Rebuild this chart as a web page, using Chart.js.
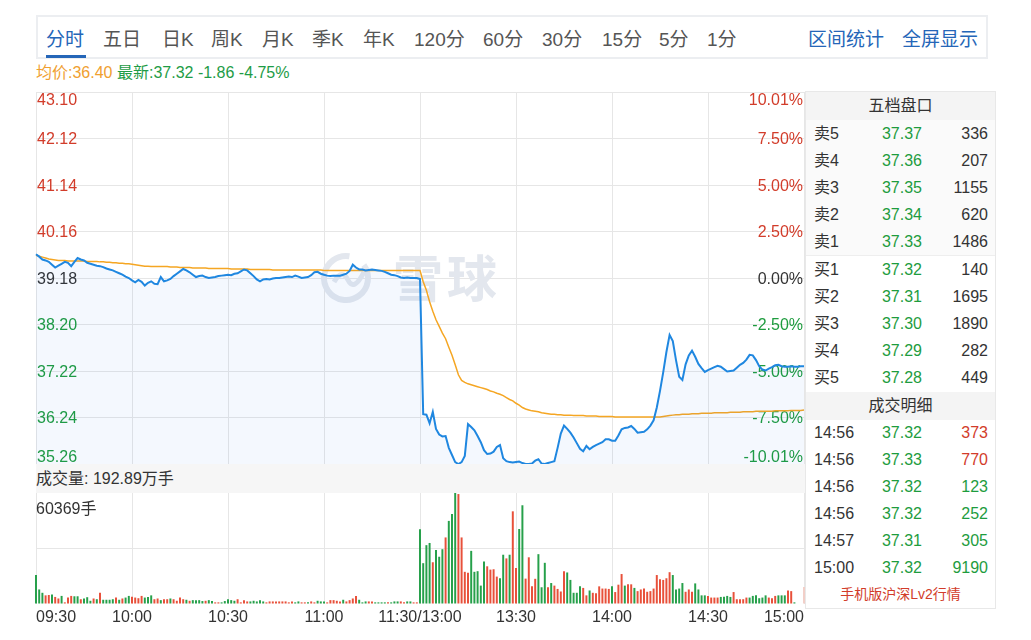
<!DOCTYPE html>
<html>
<head>
<meta charset="utf-8">
<script src="https://cdn.jsdelivr.net/npm/chart.js@4.4.1/dist/chart.umd.min.js"></script>
<style>
  body { margin: 0; background: #fff; font-family: "Liberation Sans", Arial, "Noto Sans CJK SC", sans-serif; }
  #wrap { position: relative; width: 1031px; height: 640px; overflow: hidden; }
  .abs { position: absolute; white-space: nowrap; }
  #toolbar { left: 36px; top: 15px; width: 948px; height: 40px; border: 2px solid #eceef1; }
  .tab { position: absolute; top: 28px; font-size: 19px; line-height: 24px; color: #555; }
  .tab.on, .tab.link { color: #2566b8; }
  #underline { left: 46px; top: 55px; width: 40px; height: 3px; background: #2566b8; }
  #quote { left: 36px; top: 62px; font-size: 16px; line-height: 22px; }
  #volhead { left: 36px; top: 464px; width: 769px; height: 29px; background: #f6f6f6; font-size: 16px; line-height: 29px; color: #333; }
  canvas { position: absolute; }
  #panel { left: 805px; top: 91px; width: 189px; height: 516px; border: 1px solid #e8e8e8; background: #fff; font-size: 16px; color: #333; }
  .ph { position: absolute; left: 0; width: 189px; height: 28px; line-height: 28px; background: #f4f4f4; text-align: center; }
  .row { position: absolute; left: 0; width: 189px; height: 27px; line-height: 27px; }
  .row .c1 { position: absolute; left: 8px; }
  .row .c2 { position: absolute; left: 66px; width: 60px; text-align: center; color: #1e9c3e; }
  .row .c3 { position: absolute; right: 7px; text-align: right; }
</style>
</head>
<body>
<div id="wrap">
  <div id="toolbar" class="abs"></div>
  <div id="tabs"></div>
  <div id="underline" class="abs"></div>
  <div id="quote" class="abs"><span style="color:#f0a030">均价:36.40</span> <span style="color:#1e9c46">最新:37.32 -1.86 -4.75%</span></div>
  <canvas id="priceChart" width="782" height="384" style="left:30px;top:86px;width:782px;height:384px"></canvas>
  <div id="volhead" class="abs">成交量: 192.89万手</div>
  <canvas id="volChart" width="782" height="150" style="left:30px;top:487px;width:782px;height:150px"></canvas>
  <div id="panel" class="abs"></div>
</div>
<script>
// ---- data ----
var tabLabels = ["分时", "五日", "日K", "周K", "月K", "季K", "年K", "120分", "60分", "30分", "15分", "5分", "1分", "区间统计", "全屏显示"];
var tabLeft = [46, 103, 162, 211, 262, 312, 363, 414, 483, 542, 602, 659, 707, 808, 902];

var prevClose = 39.18;
var priceTicks = [43.10, 42.12, 41.14, 40.16, 39.18, 38.20, 37.22, 36.24, 35.26];
var pctTicks = ["10.01%", "7.50%", "5.00%", "2.50%", "0.00%", "-2.50%", "-5.00%", "-7.50%", "-10.01%"];
var timeTicks = ["09:30", "10:00", "10:30", "11:00", "11:30/13:00", "13:30", "14:00", "14:30", "15:00"];
var volMax = 60369;

// 09:30 - 11:30
var priceAM = [39.68,39.63,39.57,39.55,39.52,39.46,39.40,39.44,39.48,39.52,
  39.50,39.43,39.52,39.60,39.57,39.55,39.50,39.48,39.46,39.44,
  39.43,39.41,39.38,39.36,39.34,39.31,39.28,39.25,39.21,39.18,
  39.13,39.09,39.14,39.10,39.02,39.08,39.11,39.06,39.05,39.20,
  39.11,39.13,39.16,39.22,39.27,39.32,39.37,39.34,39.30,39.25,
  39.20,39.22,39.23,39.20,39.18,39.19,39.20,39.22,39.23,39.24,
  39.25,39.24,39.27,39.28,39.32,39.36,39.34,39.28,39.22,39.15,
  39.11,39.15,39.16,39.15,39.17,39.18,39.18,39.19,39.20,39.21,
  39.20,39.23,39.21,39.18,39.19,39.20,39.24,39.30,39.31,39.27,
  39.25,39.23,39.22,39.23,39.23,39.23,39.25,39.27,39.33,39.46,
  39.40,39.36,39.36,39.34,39.35,39.36,39.35,39.34,39.33,39.31,
  39.28,39.25,39.24,39.22,39.19,39.18,39.19,39.18,39.18,39.18,
  39.16];
// 13:01 - 15:00
var pricePM = [36.31,36.30,36.12,36.36,36.00,35.88,35.84,35.85,35.60,35.45,
  35.30,35.26,35.30,35.43,36.10,36.04,35.97,35.85,35.72,35.55,
  35.47,35.48,35.52,35.62,35.66,35.38,35.32,35.30,35.29,35.30,
  35.31,35.28,35.26,35.26,35.27,35.33,35.36,35.27,35.26,35.28,
  35.30,35.32,35.60,35.90,36.07,36.00,35.92,35.82,35.70,35.58,
  35.53,35.64,35.57,35.62,35.66,35.69,35.72,35.78,35.78,35.75,
  35.75,35.86,35.99,36.02,36.03,36.06,36.00,35.92,35.93,35.94,
  35.99,36.07,36.18,36.45,36.80,37.19,37.62,37.98,37.85,37.45,
  37.10,37.03,37.36,37.55,37.65,37.52,37.37,37.28,37.20,37.24,
  37.27,37.30,37.33,37.31,37.26,37.21,37.22,37.23,37.29,37.35,
  37.39,37.46,37.56,37.55,37.45,37.32,37.25,37.23,37.27,37.30,
  37.34,37.35,37.32,37.31,37.31,37.32,37.31,37.31,37.32,37.32];

var avgAM = [39.66,39.64,39.62,39.60,39.58,39.57,39.56,39.55,39.55,39.55,
  39.54,39.54,39.54,39.54,39.54,39.54,39.53,39.53,39.53,39.53,
  39.52,39.52,39.51,39.51,39.50,39.50,39.49,39.49,39.48,39.48,
  39.47,39.46,39.45,39.44,39.43,39.43,39.42,39.42,39.42,39.42,
  39.42,39.42,39.41,39.41,39.41,39.40,39.40,39.40,39.40,39.39,
  39.39,39.39,39.39,39.39,39.38,39.38,39.38,39.38,39.38,39.38,
  39.38,39.37,39.37,39.37,39.37,39.37,39.37,39.36,39.36,39.36,
  39.36,39.36,39.36,39.36,39.35,39.35,39.35,39.35,39.35,39.35,
  39.35,39.35,39.35,39.35,39.35,39.35,39.35,39.35,39.35,39.35,
  39.34,39.34,39.34,39.34,39.34,39.34,39.34,39.34,39.34,39.34,
  39.34,39.34,39.34,39.34,39.34,39.34,39.34,39.34,39.34,39.34,
  39.34,39.34,39.34,39.34,39.34,39.34,39.34,39.34,39.34,39.34,
  39.34];
var avgPM = [39.10,38.92,38.68,38.48,38.30,38.16,38.02,37.90,37.72,37.55,
  37.35,37.14,37.02,36.98,36.95,36.93,36.91,36.89,36.87,36.85,
  36.83,36.80,36.78,36.75,36.73,36.70,36.66,36.62,36.59,36.54,
  36.50,36.45,36.42,36.40,36.38,36.37,36.36,36.34,36.33,36.32,
  36.31,36.31,36.30,36.30,36.29,36.29,36.29,36.28,36.28,36.28,
  36.28,36.27,36.27,36.27,36.27,36.26,36.26,36.26,36.26,36.26,
  36.25,36.25,36.25,36.25,36.25,36.25,36.25,36.25,36.25,36.25,
  36.25,36.25,36.25,36.25,36.25,36.26,36.27,36.28,36.29,36.30,
  36.30,36.31,36.31,36.31,36.32,36.32,36.32,36.33,36.33,36.33,
  36.33,36.34,36.34,36.34,36.34,36.34,36.35,36.35,36.35,36.35,
  36.36,36.36,36.36,36.36,36.37,36.37,36.37,36.37,36.37,36.37,
  36.38,36.38,36.38,36.38,36.38,36.39,36.39,36.39,36.39,36.40];

var volAM = [15750,7900,6100,4700,4900,5100,3850,3000,4400,900,
  3500,4400,4200,4200,2600,3000,3700,1750,3000,2600,
  6100,2300,2300,2300,2600,3500,2300,3000,3500,4400,
  4000,3500,3150,4400,3500,3850,4700,2600,3000,2100,
  2600,2600,3000,2600,1750,3500,2600,2300,1750,2100,
  2100,2100,1600,1750,2100,1600,900,900,900,1600,
  2600,2100,1750,2600,900,2100,1400,1400,1750,1400,
  2100,1400,900,1400,1400,1400,1400,1400,1400,900,
  1400,900,1400,900,900,900,1400,900,1750,1400,
  1400,900,2100,2100,1750,1400,2300,1400,2100,3000,
  4400,2300,900,1400,1400,1400,900,900,900,900,
  900,900,1400,1400,1400,900,1400,1400,900,900];
var volPM = [40600,22200,32000,33200,22700,29400,25700,29800,36200,45200,
  49000,60369,59800,36200,17500,17000,28900,17500,17850,10000,
  23100,20500,18700,18900,14900,14000,26800,24800,26800,50400,
  19600,40800,53700,13800,25400,9600,13700,27100,9100,22400,
  9100,11400,10000,8200,6800,17850,17150,13100,6100,6100,
  9600,8750,4700,7350,6100,5800,9600,8400,8400,8200,
  9600,6500,10500,16300,10000,10700,10700,8750,7000,7900,
  8400,6650,7000,8400,15750,13500,13100,14000,17300,15750,
  7900,8400,11400,6650,7900,6650,11200,7900,4700,4700,
  4400,3500,3500,3500,3850,4000,4400,3850,6500,2600,
  2600,2600,3500,3500,4400,4700,3150,3500,4700,3500,
  3150,4400,4700,4700,4700,7350,7000,900,0,0,
  9190];
// r = up, g = down, a = closing auction
var volSide = ("gggrrgrrgr" + "rrggrgggrg" + "rggggrgrgg" + "rrrrgggrrg" + "rrgrrrrgrg" +
  "gggrggrrgg" + "gggrrrrggg" + "ggrrrrrrrr" + "rggrrgrrgg" + "grrrrrgrrr" +
  "rgggrrgggg" + "rgggrrggrr" + "ggggrgggrg" + "ggrrrrgggg" + "grrrrggrgr" +
  "rggrrrrggg" + "rgrrrrgggg" + "grrgrrrrrr" + "grrrgrrgrr" + "rrrrrrrrrg" +
  "gggrrrgggg" + "rrrrggggrr" + "rrrggggggr" + "rrgggrrggg" + "a").split("");

var bookLabels = ["卖5", "卖4", "卖3", "卖2", "卖1", "买1", "买2", "买3", "买4", "买5"];
var bookPrices = ["37.37", "37.36", "37.35", "37.34", "37.33", "37.32", "37.31", "37.30", "37.29", "37.28"];
var bookVols = [336, 207, 1155, 620, 1486, 140, 1695, 1890, 282, 449];
var tradeTimes = ["14:56", "14:56", "14:56", "14:56", "14:57", "15:00"];
var tradePrices = ["37.32", "37.33", "37.32", "37.32", "37.31", "37.32"];
var tradeVols = [373, 770, 123, 252, 305, 9190];
var tradeSides = ["r", "r", "g", "g", "g", "g"];

// ---- derived ----
var prices = priceAM.concat(pricePM);
var avgPrices = avgAM.concat(avgPM);
var volumes = volAM.concat(volPM);
var minuteLabels = [];
for (var m = 0; m <= 240; m++) {
  var t = m <= 120 ? 9 * 60 + 30 + m : 13 * 60 + (m - 120);
  minuteLabels.push(String(Math.floor(t / 60)).padStart(2, "0") + ":" + String(t % 60).padStart(2, "0"));
}
var tickIdx = timeTicks.map(function(_, i) { return i * 30; });

var RED = "#d23c2a", GREEN = "#1e9c3e";
var FONT = '"Liberation Sans", Arial, "Noto Sans CJK SC", sans-serif';
Chart.defaults.font.family = FONT;

// toolbar tabs
var tabsEl = document.getElementById("tabs");
tabLabels.forEach(function(txt, i) {
  var d = document.createElement("div");
  d.className = "tab" + (i === 0 ? " on" : "") + (i >= 13 ? " link" : "");
  d.style.left = tabLeft[i] + "px";
  d.textContent = txt;
  tabsEl.appendChild(d);
});

// right panel
var panel = document.getElementById("panel");
function addDiv(cls, top, html, css) {
  var d = document.createElement("div");
  d.className = cls;
  d.style.top = top + "px";
  if (css) d.style.cssText += css;
  d.innerHTML = html;
  panel.appendChild(d);
}
addDiv("ph", 0, "五档盘口");
addDiv("row", 28, "", "height:135px;background:#fafafa;border-bottom:1px solid #eeeeee");
bookLabels.forEach(function(lb, i) {
  var top = i < 5 ? 28 + i * 27 : 164 + (i - 5) * 27;
  addDiv("row", top, '<span class="c1">' + lb + '</span><span class="c2">' + bookPrices[i] +
    '</span><span class="c3">' + bookVols[i] + '</span>');
});
addDiv("ph", 300, "成交明细");
tradeTimes.forEach(function(tm, i) {
  addDiv("row", 327 + i * 27, '<span class="c1">' + tm + '</span><span class="c2">' + tradePrices[i] +
    '</span><span class="c3" style="color:' + (tradeSides[i] === "r" ? RED : GREEN) + '">' + tradeVols[i] + '</span>');
});
addDiv("row", 489, "手机版沪深Lv2行情", "text-align:center;font-size:14px;color:#d23c2a");

// ---- price chart ----
var priceLabels = {
  id: "priceLabels",
  beforeDatasetsDraw: function(chart) {
    var ctx = chart.ctx, a = chart.chartArea, y = chart.scales.y;
    ctx.save();
    // watermark
    var cx = a.left + 310, cy = a.top + 186;
    ctx.strokeStyle = "#e3e7ee";
    ctx.fillStyle = "#e3e7ee";
    ctx.lineWidth = 6;
    ctx.beginPath();
    ctx.arc(cx, cy, 22, -0.2 * Math.PI, 1.55 * Math.PI);
    ctx.stroke();
    ctx.lineWidth = 5;
    ctx.beginPath();
    ctx.moveTo(cx - 12, cy + 4);
    ctx.quadraticCurveTo(cx - 4, cy - 10, cx + 2, cy + 2);
    ctx.quadraticCurveTo(cx + 8, cy + 14, cx + 18, cy - 6);
    ctx.stroke();
    ctx.font = "bold 50px 'Noto Sans CJK SC'";
    ctx.textAlign = "center";
    ctx.textBaseline = "middle";
    ctx.fillText("雪", cx + 72, cy);
    ctx.fillText("球", cx + 126, cy);
    // axis labels
    ctx.font = "16px " + FONT;
    ctx.textBaseline = "alphabetic";
    var last = priceTicks.length - 1;
    priceTicks.forEach(function(v, i) {
      var py = y.getPixelForValue(v);
      var by = i === 0 ? py + 12.5 : (i === last ? py - 2 : py + 5.7);
      ctx.fillStyle = v > prevClose ? RED : (v < prevClose ? GREEN : "#333");
      ctx.textAlign = "left";
      ctx.fillText(v.toFixed(2), a.left + 1, by);
      ctx.textAlign = "right";
      ctx.fillText(pctTicks[i], a.right - 1, by);
    });
    ctx.restore();
  }
};

new Chart(document.getElementById("priceChart"), {
  type: "line",
  data: {
    labels: minuteLabels,
    datasets: [{
      data: prices,
      borderColor: "#1f87e0",
      borderWidth: 2,
      pointRadius: 0,
      fill: "start",
      backgroundColor: "rgba(30,120,230,0.05)",
      tension: 0
    }, {
      data: avgPrices,
      borderColor: "#f5a623",
      borderWidth: 1.5,
      pointRadius: 0,
      fill: false,
      tension: 0
    }]
  },
  options: {
    responsive: false,
    animation: false,
    devicePixelRatio: 1,
    layout: { padding: { left: 6, right: 8, top: 6, bottom: 6 } },
    plugins: { legend: { display: false }, tooltip: { enabled: false } },
    scales: {
      x: {
        offset: false,
        ticks: { display: false },
        grid: { color: "#e6e6e6", drawTicks: false },
        border: { display: false },
        afterBuildTicks: function(s) { s.ticks = tickIdx.map(function(v) { return { value: v }; }); }
      },
      y: {
        min: 35.26,
        max: 43.10,
        ticks: { display: false },
        grid: { color: "#e6e6e6", drawTicks: false },
        border: { display: false },
        afterBuildTicks: function(s) { s.ticks = priceTicks.map(function(v) { return { value: v }; }); }
      }
    }
  },
  plugins: [priceLabels]
});

// ---- volume chart ----
var volLabel = {
  id: "volLabel",
  afterDraw: function(chart) {
    var ctx = chart.ctx, a = chart.chartArea;
    ctx.save();
    ctx.font = "16px " + FONT;
    ctx.fillStyle = "#333";
    ctx.textAlign = "left";
    ctx.textBaseline = "alphabetic";
    ctx.fillText(volMax + "手", a.left, a.top + 21);
    ctx.restore();
  }
};
var sideColor = { r: "#e8503a", g: "#26a04a", a: "#f2cfc8" };

new Chart(document.getElementById("volChart"), {
  type: "bar",
  data: {
    labels: minuteLabels,
    datasets: [{
      data: volumes,
      backgroundColor: volSide.map(function(s) { return sideColor[s]; }),
      barPercentage: 0.62,
      categoryPercentage: 1,
      clip: false
    }]
  },
  options: {
    responsive: false,
    animation: false,
    devicePixelRatio: 1,
    layout: { padding: { left: 6, right: 8, top: 6, bottom: 5.8 } },
    plugins: { legend: { display: false }, tooltip: { enabled: false } },
    scales: {
      x: {
        offset: false,
        grid: { color: "#e6e6e6", drawTicks: false, offset: false },
        border: { display: false },
        ticks: {
          autoSkip: false, maxRotation: 0, align: "inner", padding: 4,
          color: "#333", font: { size: 16 },
          callback: function(v, i) { return timeTicks[i]; }
        },
        afterBuildTicks: function(s) { s.ticks = tickIdx.map(function(v) { return { value: v }; }); }
      },
      y: {
        min: 0,
        max: volMax,
        ticks: { display: false },
        grid: {
          drawTicks: false,
          color: function(c) { return c.index === 1 ? "#e6e6e6" : "rgba(0,0,0,0)"; }
        },
        border: { display: false },
        afterBuildTicks: function(s) { s.ticks = [0, volMax / 2, volMax].map(function(v) { return { value: v }; }); }
      }
    }
  },
  plugins: [volLabel]
});
</script>
</body>
</html>
